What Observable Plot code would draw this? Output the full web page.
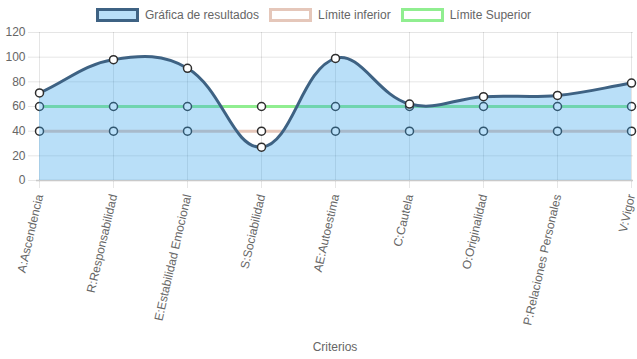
<!DOCTYPE html>
<html>
<head>
<meta charset="utf-8">
<script src="https://cdn.jsdelivr.net/npm/d3@7"></script>
<script src="https://cdn.jsdelivr.net/npm/@observablehq/plot@0.6"></script>
<style>
  html, body { margin: 0; padding: 0; background: #fff; }
  body { width: 637px; height: 359px; overflow: hidden; font-family: "Liberation Sans", Arial, Helvetica, sans-serif; }
  #legend { height: 26px; display: flex; justify-content: center; align-items: center; padding-right: 10px; padding-top: 4px; box-sizing: border-box; font-size: 12px; color: #666; }
  .item { display: flex; align-items: center; margin: 0 5px; }
  .box { width: 37px; height: 8px; border: 3px solid; margin-right: 6px; }
  svg { display: block; }
</style>
</head>
<body>
<div id="legend"></div>
<div id="chart"></div>
<script>
const categories = ["A:Ascendencia", "R:Responsabilidad", "E:Estabilidad Emocional", "S:Sociabilidad", "AE:Autoestima", "C:Cautela", "O:Originalidad", "P:Relaciones Personales", "V:Vigor"];
const resultados = [71, 98, 91, 27, 99, 62, 68, 69, 79];
const limiteInferior = [40, 40, 40, 40, 40, 40, 40, 40, 40];
const limiteSuperior = [60, 60, 60, 60, 60, 60, 60, 60, 60];
const yTicks = [0, 20, 40, 60, 80, 100, 120];
const seriesNames = ["Gráfica de resultados", "Límite inferior", "Límite Superior"];

const colors = {
  resFill: "rgb(54,162,235)",
  resLine: "#3e6283",
  inf: "#e5c7ba",
  sup: "#90ee90",
  dotStroke: "#2e2e2e",
  grid: "#e6e6e6",
  text: "#666"
};

// legend
const legendItems = [
  {name: seriesNames[0], fill: "rgba(54,162,235,0.35)", border: colors.resLine},
  {name: seriesNames[1], fill: "#fff", border: colors.inf},
  {name: seriesNames[2], fill: "#fff", border: colors.sup}
];
const legend = document.getElementById("legend");
for (const it of legendItems) {
  const d = document.createElement("div");
  d.className = "item";
  const b = document.createElement("span");
  b.className = "box";
  b.style.background = it.fill;
  b.style.borderColor = it.border;
  const t = document.createElement("span");
  t.textContent = it.name;
  d.appendChild(b); d.appendChild(t);
  legend.appendChild(d);
}

const data = categories.map((c, i) => ({
  criterio: c,
  resultado: resultados[i],
  inferior: limiteInferior[i],
  superior: limiteSuperior[i]
}));

// Chart.js-like bezier spline (tension 0.4)
function ChartSpline(context) { this._context = context; }
ChartSpline.prototype = {
  areaStart() { this._line = 0; },
  areaEnd() { this._line = NaN; },
  lineStart() { this._pts = []; },
  point(x, y) { this._pts.push([+x, +y]); },
  lineEnd() {
    const p = this._pts, n = p.length, c = this._context, t = 0.4;
    if (n) {
      if (this._line) c.lineTo(p[0][0], p[0][1]); else c.moveTo(p[0][0], p[0][1]);
      const cps = p.map((pt, i) => {
        const prev = p[i - 1] || pt, next = p[i + 1] || pt;
        const d01 = Math.hypot(pt[0] - prev[0], pt[1] - prev[1]);
        const d12 = Math.hypot(next[0] - pt[0], next[1] - pt[1]);
        let s01 = d01 / (d01 + d12), s12 = d12 / (d01 + d12);
        if (!isFinite(s01)) s01 = 0;
        if (!isFinite(s12)) s12 = 0;
        const fa = t * s01, fb = t * s12;
        return {
          prev: [pt[0] - fa * (next[0] - prev[0]), pt[1] - fa * (next[1] - prev[1])],
          next: [pt[0] + fb * (next[0] - prev[0]), pt[1] + fb * (next[1] - prev[1])]
        };
      });
      for (let i = 1; i < n; i++) {
        c.bezierCurveTo(cps[i - 1].next[0], cps[i - 1].next[1], cps[i].prev[0], cps[i].prev[1], p[i][0], p[i][1]);
      }
    }
    if (this._line || (this._line !== 0 && n === 1)) c.closePath();
    this._line = 1 - this._line;
  }
};
const chartCurve = (ctx) => new ChartSpline(ctx);

const chart = Plot.plot({
  width: 637,
  height: 333,
  marginTop: 6,
  marginLeft: 36,
  marginRight: 4,
  marginBottom: 179,
  style: {fontFamily: "'Liberation Sans', Arial, Helvetica, sans-serif", fontSize: "12px", color: colors.text, background: "#fff"},
  x: {type: "point", domain: categories, padding: 0, label: null},
  y: {domain: [0, 120], label: null},
  marks: [
    Plot.gridY(yTicks, {stroke: "#000", strokeOpacity: 0.1}),
    Plot.gridX(categories, {stroke: "#000", strokeOpacity: 0.1}),
    Plot.axisY(yTicks, {tickSize: 8, tickPadding: 3, stroke: colors.grid, fill: colors.text, fontSize: 12, label: null}),
    Plot.axisX(categories, {tickSize: 8, tickPadding: 6, tickRotate: -77, stroke: colors.grid, fill: colors.text, fontSize: 12, label: "Criterios", labelAnchor: "center", labelOffset: 170, labelArrow: false}),
    Plot.ruleY([0], {stroke: "#000", strokeOpacity: 0.12, strokeWidth: 2}),
    Plot.line(data, {x: "criterio", y: "inferior", stroke: colors.inf, strokeWidth: 3}),
    Plot.line(data, {x: "criterio", y: "superior", stroke: colors.sup, strokeWidth: 3}),
    Plot.dot(data, {x: "criterio", y: "inferior", r: 4, fill: "#fff", stroke: colors.dotStroke, strokeWidth: 1.5}),
    Plot.dot(data, {x: "criterio", y: "superior", r: 4, fill: "#fff", stroke: colors.dotStroke, strokeWidth: 1.5}),
    Plot.areaY(data, {x: "criterio", y1: 0, y2: "resultado", fill: colors.resFill, fillOpacity: 0.35, curve: chartCurve}),
    Plot.line(data, {x: "criterio", y: "resultado", stroke: colors.resLine, strokeWidth: 3, curve: chartCurve}),
    Plot.dot(data, {x: "criterio", y: "resultado", r: 4, fill: "#fff", stroke: colors.dotStroke, strokeWidth: 1.5})
  ]
});
document.getElementById("chart").appendChild(chart);
</script>
</body>
</html>
